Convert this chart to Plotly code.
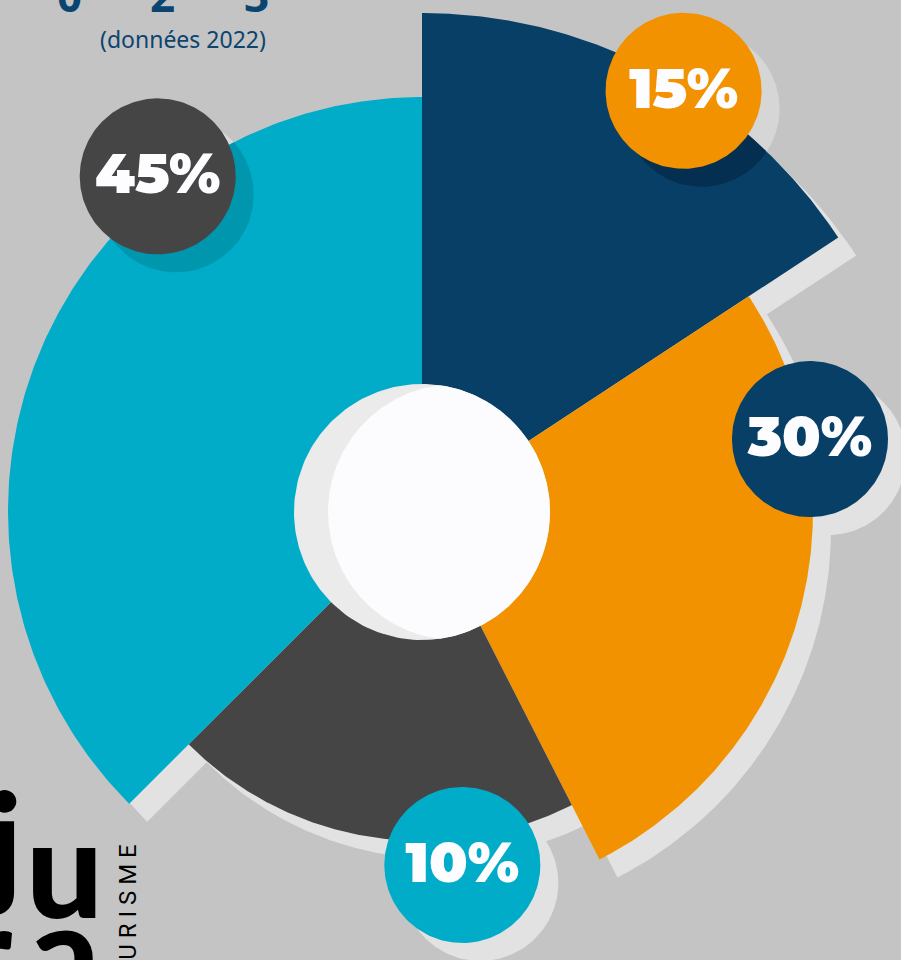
import numpy as np
import plotly.graph_objects as go

# segments, clockwise from 12 o'clock
seg_names = ["bleu", "orange", "gris", "cyan"]
seg_spans = [56.7, 96.3, 72.0, 135.0]      # degrees
seg_radii = [498, 391, 330, 414]
seg_colors = ["#083f66", "#f29200", "#454545", "#00acc8"]
seg_shade = ["#052f50", "#d68100", "#3a3a3a", "#0096ad"]

# percentage badges
labels = ["15%", "30%", "10%", "45%"]
label_seg = [0, 1, 2, 3]
label_angle = [31.9, 79.5, 173.5, 321.7]
label_dist = [495, 394.6, 356.3, 426.4]
label_colors = ["#f29200", "#083f66", "#00acc8", "#454545"]
label_shadow = ["#d6d6d6", "#e2e2e2", "#e2e2e2", "#dadada"]
label_dark = [True, False, False, True]

top_digits = ["0", "2", "3"]
top_digits_x = [69, 162, 256]
subtitle = "(données 2022)"

BG = "#c4c4c4"
SHADOW = "#e2e2e2"
OFF = 18          # shadow offset (px, down-right)
BADGE_R = 78
HOLE_R = 128
W, H = 901, 960
CX, CY = 422, 511  # centre of the pie in page pixels


def wedge(a0, a1, r, dx=0, dy=0):
    t = np.radians(np.linspace(a0, a1, 200))
    x = np.concatenate([[0], r * np.sin(t), [0]]) + dx
    y = np.concatenate([[0], r * np.cos(t), [0]]) + dy
    return x, y


def circle(cx, cy, r, n=200):
    t = np.linspace(0, 2 * np.pi, n)
    return cx + r * np.cos(t), cy + r * np.sin(t)


def poly(x, y, color):
    return go.Scatter(x=x, y=y, mode="lines", fill="toself", fillcolor=color,
                      line=dict(width=0), hoverinfo="skip")


def paper_text(fig, text, px, py, font, **kw):
    fig.add_annotation(x=px / W, y=1 - py / H, xref="paper", yref="paper", text=text,
                       showarrow=False, xanchor="center", yanchor="middle", font=font, **kw)


fig = go.Figure()

starts = np.concatenate([[0], np.cumsum(seg_spans)[:-1]])
ends = np.cumsum(seg_spans)

# shadows of the segments
for a0, a1, r in zip(starts, ends, seg_radii):
    x, y = wedge(a0, a1, r, OFF, -OFF)
    fig.add_trace(poly(x, y, SHADOW))

# badge centres
bx = [d * np.sin(np.radians(a)) for a, d in zip(label_angle, label_dist)]
by = [d * np.cos(np.radians(a)) for a, d in zip(label_angle, label_dist)]

# light badge shadows (under the segments)
for cx, cy, c in zip(bx, by, label_shadow):
    x, y = circle(cx + OFF, cy - OFF, BADGE_R)
    fig.add_trace(poly(x, y, c))

# segments
for a0, a1, r, c in zip(starts, ends, seg_radii, seg_colors):
    x, y = wedge(a0, a1, r)
    fig.add_trace(poly(x, y, c))

# darker part of badge shadows, where they fall on their segment
for cx, cy, s, dark in zip(bx, by, label_seg, label_dark):
    if not dark:
        continue
    x, y = circle(cx + OFF, cy - OFF, BADGE_R)
    k = np.minimum(1, seg_radii[s] / np.hypot(x, y))
    fig.add_trace(poly(x * k, y * k, seg_shade[s]))

# central hole: grey disc + white lens
hx, hy = circle(0, -1, HOLE_R)
fig.add_trace(poly(hx, hy, "#ebebeb"))
ax_, ay_ = circle(0, -1, HOLE_R, 720)
bx_, by_ = circle(34, -1, HOLE_R, 720)
pa = [(u, v) for u, v in zip(ax_, ay_) if np.hypot(u - 34, v + 1) <= HOLE_R]
pb = [(u, v) for u, v in zip(bx_, by_) if np.hypot(u, v + 1) <= HOLE_R]
pts = np.array(pa + pb)
pts = pts[np.argsort(np.arctan2(pts[:, 1] + 1, pts[:, 0] - 17))]
fig.add_trace(poly(np.append(pts[:, 0], pts[0, 0]), np.append(pts[:, 1], pts[0, 1]), "#fcfbfe"))

# badges
for cx, cy, c in zip(bx, by, label_colors):
    x, y = circle(cx, cy, BADGE_R)
    fig.add_trace(poly(x, y, c))

fig.add_trace(go.Scatter(
    x=bx, y=[v - 3 for v in by], mode="text", text=labels, textposition="middle center",
    textfont=dict(family="Montserrat, Lato", size=56, color="#fdfcff", weight=900),
    hoverinfo="skip",
))

# header text (cut off at top)
for d, xp in zip(top_digits, top_digits_x):
    paper_text(fig, d, xp, -5, dict(family="Open Sans", size=44, color="#0a4470", weight=700))
paper_text(fig, subtitle, 183, 39, dict(family="Noto Sans", size=23, color="#0b4570"))

# logo, bottom left
logo = [("j", 1, 838), ("u", 64, 865), ("r", -14, 949), ("a", 65, 949)]
for ch, xp, yp in logo:
    paper_text(fig, ch, xp, yp, dict(family="Lato", size=136, color="#000000", weight=900))
paper_text(fig, "T O U R I S M E", 128, 923,
           dict(family="Roboto", size=24, color="#000000", weight=400), textangle=-90)

fig.update_xaxes(range=[-CX, W - CX], visible=False, fixedrange=True)
fig.update_yaxes(range=[CY - H, CY], visible=False, fixedrange=True)
fig.update_layout(
    width=W, height=H, margin=dict(l=0, r=0, t=0, b=0),
    paper_bgcolor=BG, plot_bgcolor=BG, showlegend=False, hovermode=False,
)

fig.write_html("out.html", config={"displayModeBar": False},
               post_script="document.body.style.margin='0';"
                           "document.body.style.background='#c4c4c4';")
